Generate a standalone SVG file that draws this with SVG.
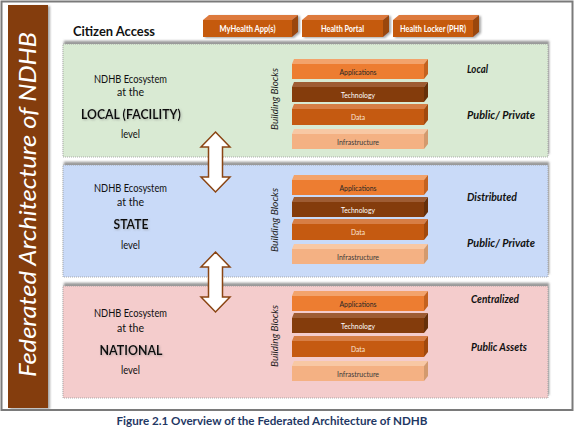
<svg xmlns="http://www.w3.org/2000/svg" xmlns:xlink="http://www.w3.org/1999/xlink" width="576" height="436" viewBox="0 0 576 436">
<style>
text{font-family:Lato,"Liberation Sans",sans-serif;}
.pt{font-size:10.5px;fill:#111;text-anchor:middle;}
.pb{font-size:13px;font-weight:bold;fill:#111;text-anchor:middle;}
.rl{font-size:10.5px;font-weight:bold;font-style:italic;fill:#111;}
.bb{font-size:9px;font-style:italic;fill:#222;text-anchor:middle;}
.bt{font-size:7.5px;text-anchor:middle;}
.btn{font-size:8.5px;font-weight:bold;fill:#fff;text-anchor:middle;}
.panel{stroke:#9a9a9a;stroke-width:0.8;stroke-dasharray:1 1;}
.arrow{fill:#fff;stroke:#8B4513;stroke-width:1.5;stroke-linejoin:miter;}
</style>
<defs>
<filter id="psh" x="-5%" y="-10%" width="110%" height="120%">
<feDropShadow dx="1" dy="-3" stdDeviation="1.2" flood-color="#808080" flood-opacity="0.8"/>
</filter>
<filter id="bsh" x="-10%" y="-5%" width="130%" height="110%">
<feDropShadow dx="2" dy="1" stdDeviation="1.2" flood-color="#808080" flood-opacity="0.7"/>
</filter>
<filter id="tsh" x="-10%" y="-30%" width="120%" height="160%">
<feDropShadow dx="1" dy="1" stdDeviation="0.8" flood-color="#808080" flood-opacity="0.5"/>
</filter>
<g id="blk-app">
<polygon points="292,5 294,0 428,0 424,5" fill="#F3A36B"/>
<rect x="292" y="5" width="132" height="15" fill="#ED7D31"/>
<polygon points="424,5 428,0 428,15 424,20" fill="#C4621F"/>
</g>
<g id="blk-tech">
<polygon points="292,5 294,0 428,0 424,5" fill="#9E5C33"/>
<rect x="292" y="5" width="132" height="15" fill="#843C0C"/>
<polygon points="424,5 428,0 428,15 424,20" fill="#66300A"/>
</g>
<g id="blk-data">
<polygon points="292,5 294,0 428,0 424,5" fill="#D77E45"/>
<rect x="292" y="5" width="132" height="16" fill="#C55A11"/>
<polygon points="424,5 428,0 428,16 424,21" fill="#A1490D"/>
</g>
<g id="blk-infra">
<polygon points="292,5 294,0 428,0 424,5" fill="#F8C8A4"/>
<rect x="292" y="5" width="132" height="15" fill="#F4B183"/>
<polygon points="424,5 428,0 428,15 424,20" fill="#D39A6E"/>
</g>
</defs>

<g id="frame">
<rect x="0" y="0" width="576" height="436" fill="#fff"/>
<rect x="1.5" y="1.5" width="571" height="408.5" fill="#fff" stroke="#7a7a7a" stroke-width="2"/>
</g>

<g id="title" filter="url(#bsh)">
<rect x="8" y="5" width="40" height="403" fill="#843C0C"/>
</g>
<text transform="translate(36,377) rotate(-90)" x="0" y="0" font-size="23" font-style="italic" fill="#fff" textLength="345" lengthAdjust="spacingAndGlyphs">Federated Architecture of NDHB</text>

<g id="citizen-access">
<text x="73" y="36" font-size="13" font-weight="bold" fill="#111" textLength="82" lengthAdjust="spacingAndGlyphs">Citizen Access</text>
</g>

<g id="btn-myhealth" filter="url(#bsh)">
<polygon points="203,20 209,15 298,15 292,20" fill="#DD7A3C"/>
<rect x="203" y="20" width="89" height="17" fill="#C55A11"/>
<polygon points="292,20 298,15 298,32 292,37" fill="#9A460D"/>
</g>
<text class="btn" x="247.5" y="31.5" textLength="56" lengthAdjust="spacingAndGlyphs">MyHealth App(s)</text>
<g id="btn-portal" filter="url(#bsh)">
<polygon points="302,20 308,15 389,15 383,20" fill="#DD7A3C"/>
<rect x="302" y="20" width="81" height="17" fill="#C55A11"/>
<polygon points="383,20 389,15 389,32 383,37" fill="#9A460D"/>
</g>
<text class="btn" x="342.5" y="31.5" textLength="43" lengthAdjust="spacingAndGlyphs">Health Portal</text>
<g id="btn-locker" filter="url(#bsh)">
<polygon points="393,20 399,15 479,15 473,20" fill="#DD7A3C"/>
<rect x="393" y="20" width="80" height="17" fill="#C55A11"/>
<polygon points="473,20 479,15 479,32 473,37" fill="#9A460D"/>
</g>
<text class="btn" x="433" y="31.5" textLength="66" lengthAdjust="spacingAndGlyphs">Health Locker (PHR)</text>

<!-- LOCAL panel -->
<g id="panel-local">
<rect class="panel" x="63" y="44" width="485" height="113" fill="#D9EAD3" filter="url(#psh)"/>
<text class="pt" x="130.5" y="82.5" textLength="73" lengthAdjust="spacingAndGlyphs">NDHB Ecosystem</text>
<text class="pt" x="130.5" y="96" textLength="27" lengthAdjust="spacingAndGlyphs">at the</text>
<text class="pb" x="131" y="119" textLength="100" lengthAdjust="spacingAndGlyphs" filter="url(#tsh)">LOCAL (FACILITY)</text>
<text class="pt" x="130.5" y="138" textLength="19" lengthAdjust="spacingAndGlyphs">level</text>
<text class="bb" transform="translate(278,99) rotate(-90)" x="0" y="0" textLength="62" lengthAdjust="spacingAndGlyphs">Building Blocks</text>
<use xlink:href="#blk-app" href="#blk-app" x="0" y="59"/>
<use xlink:href="#blk-tech" href="#blk-tech" x="0" y="82"/>
<use xlink:href="#blk-data" href="#blk-data" x="0" y="104"/>
<use xlink:href="#blk-infra" href="#blk-infra" x="0" y="129"/>
<text class="bt" x="358" y="74.5" fill="#262626" textLength="37" lengthAdjust="spacingAndGlyphs">Applications</text>
<text class="bt" x="358" y="97.5" fill="#fff" textLength="34" lengthAdjust="spacingAndGlyphs">Technology</text>
<text class="bt" x="358" y="120" fill="#fbe7da" textLength="14" lengthAdjust="spacingAndGlyphs">Data</text>
<text class="bt" x="358" y="144.5" fill="#3a3a3a" textLength="42" lengthAdjust="spacingAndGlyphs">Infrastructure</text>
<text class="rl" x="467" y="73" textLength="21" lengthAdjust="spacingAndGlyphs">Local</text>
<text class="rl" x="467" y="119" textLength="68" lengthAdjust="spacingAndGlyphs">Public/ Private</text>
</g>

<!-- STATE panel -->
<g id="panel-state">
<rect class="panel" x="63" y="165" width="485" height="112" fill="#C9DAF8" filter="url(#psh)"/>
<text class="pt" x="130.5" y="192" textLength="73" lengthAdjust="spacingAndGlyphs">NDHB Ecosystem</text>
<text class="pt" x="130.5" y="206" textLength="27" lengthAdjust="spacingAndGlyphs">at the</text>
<text class="pb" x="131" y="229" textLength="35" lengthAdjust="spacingAndGlyphs" filter="url(#tsh)">STATE</text>
<text class="pt" x="130.5" y="249" textLength="19" lengthAdjust="spacingAndGlyphs">level</text>
<text class="bb" transform="translate(278,220) rotate(-90)" x="0" y="0" textLength="64" lengthAdjust="spacingAndGlyphs">Building Blocks</text>
<use xlink:href="#blk-app" href="#blk-app" x="0" y="175"/>
<use xlink:href="#blk-tech" href="#blk-tech" x="0" y="197"/>
<use xlink:href="#blk-data" href="#blk-data" x="0" y="219"/>
<use xlink:href="#blk-infra" href="#blk-infra" x="0" y="244"/>
<text class="bt" x="358" y="190.5" fill="#262626" textLength="37" lengthAdjust="spacingAndGlyphs">Applications</text>
<text class="bt" x="358" y="212.5" fill="#fff" textLength="34" lengthAdjust="spacingAndGlyphs">Technology</text>
<text class="bt" x="358" y="235" fill="#fbe7da" textLength="14" lengthAdjust="spacingAndGlyphs">Data</text>
<text class="bt" x="358" y="259.5" fill="#3a3a3a" textLength="42" lengthAdjust="spacingAndGlyphs">Infrastructure</text>
<text class="rl" x="467" y="201" textLength="50" lengthAdjust="spacingAndGlyphs">Distributed</text>
<text class="rl" x="467" y="247" textLength="68" lengthAdjust="spacingAndGlyphs">Public/ Private</text>
</g>

<!-- NATIONAL panel -->
<g id="panel-national">
<rect class="panel" x="63" y="286" width="485" height="112" fill="#F4CCCC" filter="url(#psh)"/>
<text class="pt" x="130.5" y="317" textLength="73" lengthAdjust="spacingAndGlyphs">NDHB Ecosystem</text>
<text class="pt" x="130.5" y="332" textLength="27" lengthAdjust="spacingAndGlyphs">at the</text>
<text class="pb" x="131" y="355" textLength="63" lengthAdjust="spacingAndGlyphs" filter="url(#tsh)">NATIONAL</text>
<text class="pt" x="130.5" y="374" textLength="19" lengthAdjust="spacingAndGlyphs">level</text>
<text class="bb" transform="translate(278,336) rotate(-90)" x="0" y="0" textLength="62" lengthAdjust="spacingAndGlyphs">Building Blocks</text>
<use xlink:href="#blk-app" href="#blk-app" x="0" y="291"/>
<use xlink:href="#blk-tech" href="#blk-tech" x="0" y="313"/>
<use xlink:href="#blk-data" href="#blk-data" x="0" y="336"/>
<use xlink:href="#blk-infra" href="#blk-infra" x="0" y="361"/>
<text class="bt" x="358" y="306.5" fill="#262626" textLength="37" lengthAdjust="spacingAndGlyphs">Applications</text>
<text class="bt" x="358" y="328.5" fill="#fff" textLength="34" lengthAdjust="spacingAndGlyphs">Technology</text>
<text class="bt" x="358" y="352" fill="#fbe7da" textLength="14" lengthAdjust="spacingAndGlyphs">Data</text>
<text class="bt" x="358" y="376.5" fill="#3a3a3a" textLength="42" lengthAdjust="spacingAndGlyphs">Infrastructure</text>
<text class="rl" x="471" y="303" textLength="48" lengthAdjust="spacingAndGlyphs">Centralized</text>
<text class="rl" x="471" y="351" textLength="56" lengthAdjust="spacingAndGlyphs">Public Assets</text>
</g>

<g id="connectors">
<path class="arrow" d="M215.5,132 L230,147 L222.5,147 L222.5,177 L230,177 L215.5,192 L201,177 L208.5,177 L208.5,147 L201,147 Z"/>
<path class="arrow" d="M215.5,252 L230,267 L222.5,267 L222.5,297 L230,297 L215.5,312 L201,297 L208.5,297 L208.5,267 L201,267 Z"/>
</g>

<g id="caption">
<text x="272" y="425" font-size="10.5" font-weight="bold" fill="#1F3864" text-anchor="middle" textLength="311" lengthAdjust="spacingAndGlyphs">Figure 2.1 Overview of the Federated Architecture of NDHB</text>
</g>
</svg>
